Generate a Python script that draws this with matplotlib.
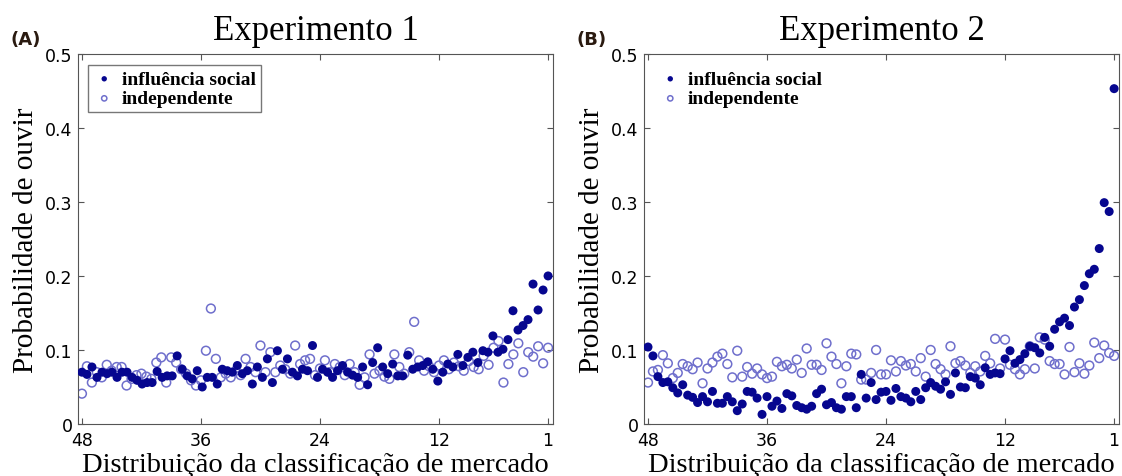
import numpy as np
import matplotlib
matplotlib.use("Agg")
import matplotlib.pyplot as plt

# probabilidade de ouvir, ordenada da classificacao 48 ate 1
exp1_social = [
    0.070, 0.067, 0.077, 0.063, 0.070, 0.068, 0.070, 0.063, 0.070, 0.070,
    0.063, 0.059, 0.054, 0.056, 0.056, 0.071, 0.063, 0.065, 0.065, 0.092,
    0.074, 0.065, 0.061, 0.072, 0.050, 0.063, 0.063, 0.054, 0.074, 0.072,
    0.070, 0.079, 0.068, 0.072, 0.054, 0.077, 0.063, 0.088, 0.056, 0.099,
    0.074, 0.088, 0.070, 0.065, 0.074, 0.072, 0.106, 0.063, 0.074, 0.070,
    0.063, 0.072, 0.079, 0.070, 0.066, 0.063, 0.077, 0.053, 0.083, 0.103,
    0.077, 0.068, 0.081, 0.065, 0.065, 0.093, 0.074, 0.077, 0.079, 0.084,
    0.074, 0.058, 0.070, 0.081, 0.077, 0.094, 0.079, 0.090, 0.097, 0.083,
    0.099, 0.097, 0.119, 0.097, 0.101, 0.114, 0.153, 0.127, 0.133, 0.141,
    0.189, 0.154, 0.181, 0.200,
]
exp1_indep = [
    0.041, 0.078, 0.056, 0.070, 0.063, 0.080, 0.072, 0.077, 0.077, 0.052,
    0.061, 0.066, 0.068, 0.064, 0.061, 0.083, 0.090, 0.056, 0.090, 0.083,
    0.074, 0.068, 0.059, 0.052, 0.059, 0.099, 0.156, 0.088, 0.063, 0.068,
    0.063, 0.072, 0.066, 0.088, 0.077, 0.070, 0.106, 0.070, 0.097, 0.070,
    0.079, 0.074, 0.068, 0.106, 0.081, 0.086, 0.088, 0.066, 0.075, 0.086,
    0.070, 0.081, 0.077, 0.066, 0.081, 0.070, 0.053, 0.063, 0.094, 0.068,
    0.072, 0.064, 0.061, 0.094, 0.077, 0.068, 0.097, 0.138, 0.086, 0.072,
    0.078, 0.070, 0.079, 0.086, 0.074, 0.083, 0.078, 0.072, 0.085, 0.077,
    0.074, 0.092, 0.080, 0.103, 0.112, 0.056, 0.081, 0.094, 0.109, 0.070,
    0.097, 0.091, 0.105, 0.082, 0.103,
]
exp2_social = [
    0.104, 0.092, 0.064, 0.056, 0.057, 0.049, 0.042, 0.053, 0.039, 0.036,
    0.029, 0.037, 0.030, 0.044, 0.028, 0.028, 0.037, 0.030, 0.018, 0.027,
    0.044, 0.043, 0.035, 0.013, 0.037, 0.024, 0.031, 0.021, 0.041, 0.038,
    0.025, 0.022, 0.020, 0.024, 0.041, 0.047, 0.026, 0.029, 0.022, 0.020,
    0.037, 0.037, 0.022, 0.067, 0.035, 0.056, 0.033, 0.043, 0.044, 0.032,
    0.048, 0.037, 0.035, 0.030, 0.044, 0.033, 0.049, 0.056, 0.051, 0.047,
    0.057, 0.040, 0.069, 0.050, 0.049, 0.064, 0.062, 0.053, 0.076, 0.067,
    0.069, 0.068, 0.088, 0.099, 0.082, 0.087, 0.095, 0.105, 0.103, 0.096,
    0.117, 0.105, 0.128, 0.138, 0.143, 0.133, 0.158, 0.168, 0.187, 0.203,
    0.209, 0.237, 0.299, 0.287, 0.453,
]
exp2_indep = [
    0.056, 0.071, 0.073, 0.093, 0.082, 0.062, 0.069, 0.081, 0.078, 0.074,
    0.083, 0.055, 0.075, 0.083, 0.091, 0.095, 0.081, 0.063, 0.099, 0.064,
    0.077, 0.068, 0.075, 0.067, 0.062, 0.064, 0.084, 0.078, 0.080, 0.075,
    0.087, 0.069, 0.102, 0.080, 0.080, 0.073, 0.109, 0.091, 0.081, 0.055,
    0.078, 0.095, 0.094, 0.060, 0.060, 0.069, 0.100, 0.067, 0.067, 0.086,
    0.071, 0.085, 0.079, 0.081, 0.071, 0.089, 0.064, 0.100, 0.081, 0.074,
    0.067, 0.105, 0.082, 0.085, 0.079, 0.069, 0.078, 0.071, 0.092, 0.082,
    0.115, 0.075, 0.114, 0.080, 0.074, 0.067, 0.074, 0.105, 0.075, 0.117,
    0.114, 0.085, 0.081, 0.081, 0.067, 0.104, 0.070, 0.082, 0.068, 0.079,
    0.110, 0.089, 0.106, 0.096, 0.092,
]

panels = [
    ("(A)", "Experimento 1", exp1_social, exp1_indep, True),
    ("(B)", "Experimento 2", exp2_social, exp2_indep, False),
]
xticks = [48, 36, 24, 12, 1]
yticks = [0, 0.1, 0.2, 0.3, 0.4, 0.5]
ytick_labels = ["0", "0.1", "0.2", "0.3", "0.4", "0.5"]

navy = "#06068f"
light = "#6f6fcc"
serif = "Liberation Serif"

fig = plt.figure(figsize=(11.22, 4.77), dpi=100)
lefts = [0.0695, 0.574]

for left, (tag, title, social, indep, framed) in zip(lefts, panels):
    ax = fig.add_axes([left, 0.109, 0.4234, 0.776])
    xs = np.linspace(48, 1, len(social))
    xi = np.linspace(48, 1, len(indep))
    ax.scatter(xi, indep, s=40, facecolors="none", edgecolors=light,
               linewidths=1.1, label="independente", zorder=2)
    ax.scatter(xs, social, s=42, color=navy, edgecolors="none",
               label="influência social", zorder=3)
    ax.set_xlim(48.4, 0.5)
    ax.set_ylim(0, 0.5)
    ax.set_xticks(xticks)
    ax.set_yticks(yticks)
    ax.set_yticklabels(ytick_labels)
    ax.tick_params(direction="in", top=True, right=True, length=4,
                   labelsize=12.5, color="#555555")
    ax.tick_params(axis="x", pad=5)
    ax.tick_params(axis="y", pad=4)
    for sp in ax.spines.values():
        sp.set_color("#555555")
    ax.set_title(title, fontfamily=serif, fontsize=25, pad=11)
    ax.set_xlabel("Distribuição da classificação de mercado",
                  fontfamily=serif, fontsize=20.5, labelpad=2)
    ax.set_ylabel("Probabilidade de ouvir", fontfamily=serif, fontsize=21,
                  labelpad=4)
    handles, labels = ax.get_legend_handles_labels()
    leg = ax.legend(handles[::-1], labels[::-1], loc="upper left",
                    prop={"family": serif, "weight": "bold", "size": 14},
                    frameon=framed, fancybox=False, handletextpad=0.3,
                    borderpad=0.25, labelspacing=0.1, markerscale=0.6,
                    handlelength=1.2, bbox_to_anchor=(0.0, 0.995))
    leg.get_frame().set_edgecolor("#555555")
    fig.text(left - 0.06, 0.905, tag, fontsize=13, fontweight="bold",
             color="#2a1a10", family="DejaVu Sans")

fig.savefig("out.png", dpi=100)
